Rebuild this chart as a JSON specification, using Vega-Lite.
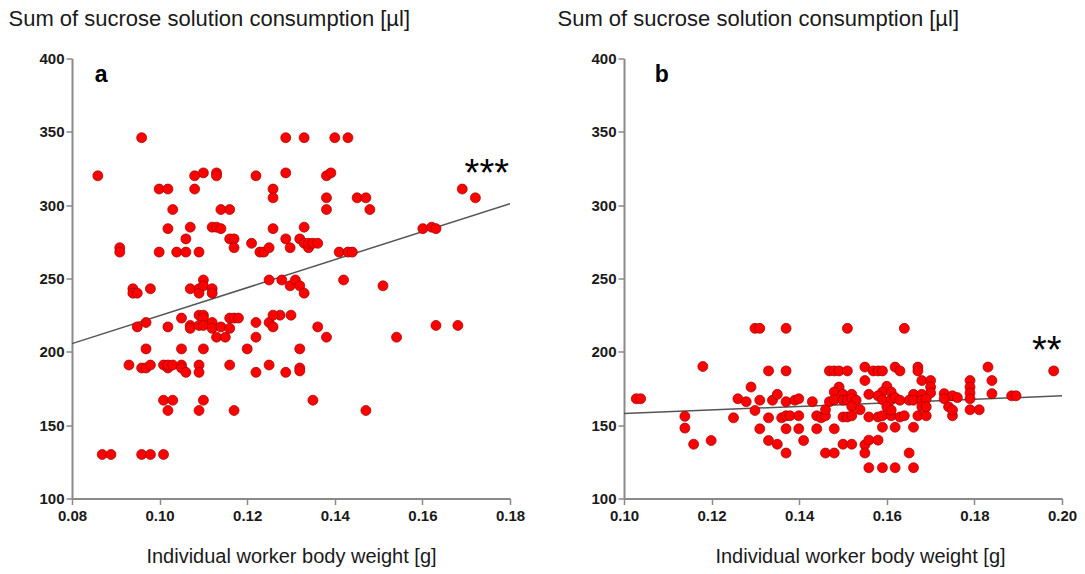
{
  "$schema": "https://vega.github.io/schema/vega-lite/v6.json",
  "background": "white",
  "padding": {"left": 8, "top": 7.5, "right": 5, "bottom": 5},
  "config": {
    "view": {"stroke": null},
    "font": "Liberation Sans",
    "axis": {
      "grid": false,
      "domainColor": "#8a8a8a",
      "domainWidth": 2,
      "tickColor": "#8a8a8a",
      "tickWidth": 1.5,
      "tickSize": 6,
      "labelFlush": false,
      "labelFont": "Liberation Sans",
      "labelFontWeight": "bold",
      "labelFontSize": 15,
      "labelColor": "#1a1a1a",
      "titleFont": "Liberation Sans",
      "titleFontWeight": "normal",
      "titleColor": "#1a1a1a"
    }
  },
  "datasets": {
    "ptsA": [
      {"w":0.0959,"c":346},{"w":0.0859,"c":320},{"w":0.0999,"c":311},{"w":0.1019,"c":311},{"w":0.1080,"c":320},{"w":0.1080,"c":311},{"w":0.1100,"c":322},{"w":0.1130,"c":322},{"w":0.1130,"c":320},{"w":0.1220,"c":320},{"w":0.1288,"c":346},{"w":0.1288,"c":322},{"w":0.1259,"c":311},{"w":0.1259,"c":305},{"w":0.1030,"c":297},{"w":0.1140,"c":297},{"w":0.1160,"c":297},{"w":0.1019,"c":284},{"w":0.1070,"c":285},{"w":0.1120,"c":285},{"w":0.1130,"c":285},{"w":0.1140,"c":284},{"w":0.1259,"c":284},{"w":0.1060,"c":277},{"w":0.1160,"c":277},{"w":0.1170,"c":277},{"w":0.1170,"c":271},{"w":0.1210,"c":274},{"w":0.1229,"c":268},{"w":0.1238,"c":268},{"w":0.1250,"c":271},{"w":0.1288,"c":277},{"w":0.1298,"c":271},{"w":0.0909,"c":271},{"w":0.0909,"c":268},{"w":0.0999,"c":268},{"w":0.1039,"c":268},{"w":0.1060,"c":268},{"w":0.1090,"c":268},{"w":0.0939,"c":243},{"w":0.0939,"c":240},{"w":0.0949,"c":240},{"w":0.0979,"c":243},{"w":0.1070,"c":243},{"w":0.1090,"c":243},{"w":0.1090,"c":240},{"w":0.1100,"c":249},{"w":0.1100,"c":245},{"w":0.1120,"c":243},{"w":0.1120,"c":240},{"w":0.1250,"c":249},{"w":0.1279,"c":249},{"w":0.1298,"c":245},
      {"w":0.1330,"c":346},{"w":0.1400,"c":346},{"w":0.1430,"c":346},{"w":0.1381,"c":320},{"w":0.1391,"c":322},{"w":0.1691,"c":311},{"w":0.1721,"c":305},{"w":0.1381,"c":305},{"w":0.1381,"c":297},{"w":0.1451,"c":305},{"w":0.1471,"c":305},{"w":0.1480,"c":297},{"w":0.1330,"c":285},{"w":0.1320,"c":277},{"w":0.1330,"c":274},{"w":0.1340,"c":271},{"w":0.1340,"c":274},{"w":0.1350,"c":274},{"w":0.1361,"c":274},{"w":0.1410,"c":268},{"w":0.1430,"c":268},{"w":0.1440,"c":268},{"w":0.1601,"c":284},{"w":0.1621,"c":285},{"w":0.1631,"c":284},{"w":0.1310,"c":249},{"w":0.1320,"c":245},{"w":0.1330,"c":240},{"w":0.1420,"c":249},{"w":0.1510,"c":245},{"w":0.1275,"c":225},{"w":0.1300,"c":225},
      {"w":0.0969,"c":220},{"w":0.0949,"c":217},{"w":0.1019,"c":217},{"w":0.1050,"c":223},{"w":0.1070,"c":218},{"w":0.1070,"c":216},{"w":0.1090,"c":225},{"w":0.1100,"c":225},{"w":0.1100,"c":223},{"w":0.1090,"c":218},{"w":0.1100,"c":218},{"w":0.1120,"c":220},{"w":0.1120,"c":216},{"w":0.1140,"c":217},{"w":0.1130,"c":210},{"w":0.1150,"c":210},{"w":0.1160,"c":223},{"w":0.1170,"c":223},{"w":0.1180,"c":223},{"w":0.1160,"c":216},{"w":0.1220,"c":220},{"w":0.1220,"c":210},{"w":0.1250,"c":220},{"w":0.1259,"c":217},{"w":0.1259,"c":225},{"w":0.0969,"c":202},{"w":0.1050,"c":202},{"w":0.1100,"c":202},{"w":0.1200,"c":202},{"w":0.0930,"c":191},{"w":0.0959,"c":189},{"w":0.0969,"c":189},{"w":0.0979,"c":191},{"w":0.1009,"c":191},{"w":0.1019,"c":189},{"w":0.1019,"c":191},{"w":0.1030,"c":191},{"w":0.1050,"c":191},{"w":0.1050,"c":189},{"w":0.1060,"c":186},{"w":0.1090,"c":191},{"w":0.1090,"c":186},{"w":0.1160,"c":191},{"w":0.1220,"c":186},{"w":0.1250,"c":191},{"w":0.1288,"c":186},{"w":0.1009,"c":167},{"w":0.1030,"c":167},{"w":0.1019,"c":160},{"w":0.1100,"c":167},{"w":0.1090,"c":160},{"w":0.1170,"c":160},{"w":0.0869,"c":130},{"w":0.0889,"c":130},{"w":0.0959,"c":130},{"w":0.0979,"c":130},{"w":0.1009,"c":130},
      {"w":0.1361,"c":217},{"w":0.1381,"c":210},{"w":0.1320,"c":202},{"w":0.1320,"c":189},{"w":0.1320,"c":187},{"w":0.1350,"c":167},{"w":0.1471,"c":160},{"w":0.1541,"c":210},{"w":0.1631,"c":218},{"w":0.1681,"c":218}
    ],
    "ptsB": [
      {"w":0.1028,"c":168},{"w":0.1038,"c":168},{"w":0.1180,"c":190},{"w":0.1139,"c":156},{"w":0.1139,"c":148},{"w":0.1159,"c":137},{"w":0.1199,"c":139.5},{"w":0.1250,"c":155},{"w":0.1260,"c":168},{"w":0.1279,"c":166},{"w":0.1290,"c":176},{"w":0.1299,"c":160},{"w":0.1299,"c":216},{"w":0.1310,"c":216},{"w":0.1310,"c":167},{"w":0.1310,"c":147.5},{"w":0.1330,"c":187},{"w":0.1330,"c":155},{"w":0.1330,"c":139.5},{"w":0.1339,"c":167},{"w":0.1350,"c":171},{"w":0.1350,"c":137},{"w":0.1360,"c":155},{"w":0.1370,"c":216},{"w":0.1370,"c":187},{"w":0.1370,"c":166},{"w":0.1370,"c":156.4},{"w":0.1379,"c":156.4},{"w":0.1370,"c":147.5},{"w":0.1370,"c":131},{"w":0.1390,"c":167},{"w":0.1399,"c":168},{"w":0.1399,"c":156.4},{"w":0.1399,"c":147.5},{"w":0.1410,"c":139.5},{"w":0.1430,"c":166},{"w":0.1440,"c":156.4},{"w":0.1440,"c":147.5},{"w":0.1450,"c":155},{"w":0.1460,"c":156.4},{"w":0.1460,"c":131},{"w":0.1469,"c":187},{"w":0.1469,"c":166},
      {"w":0.1510,"c":216},{"w":0.1480,"c":187},{"w":0.1491,"c":187},{"w":0.1510,"c":187},{"w":0.1491,"c":176},{"w":0.1480,"c":172.6},{"w":0.1500,"c":171},{"w":0.1520,"c":171},{"w":0.1480,"c":167.3},{"w":0.1500,"c":167},{"w":0.1510,"c":167},{"w":0.1520,"c":168},{"w":0.1530,"c":167},{"w":0.1520,"c":162.7},{"w":0.1460,"c":160.5},{"w":0.1500,"c":155.6},{"w":0.1510,"c":155.6},{"w":0.1520,"c":156.4},{"w":0.1480,"c":147.5},{"w":0.1500,"c":137},{"w":0.1520,"c":137},{"w":0.1480,"c":131},
      {"w":0.1640,"c":216},{"w":0.1550,"c":189.6},{"w":0.1569,"c":187},{"w":0.1580,"c":187},{"w":0.1590,"c":187},{"w":0.1619,"c":189.6},{"w":0.1630,"c":187},{"w":0.1671,"c":189.6},{"w":0.1671,"c":187},{"w":0.1831,"c":189.6},{"w":0.1550,"c":180.4},{"w":0.1600,"c":176.5},{"w":0.1680,"c":180.4},{"w":0.1700,"c":180.4},{"w":0.1700,"c":176},{"w":0.1700,"c":172},{"w":0.1790,"c":180.4},{"w":0.1790,"c":176},{"w":0.1790,"c":172},{"w":0.1840,"c":180.4},{"w":0.1840,"c":171.5},{"w":0.1590,"c":172.6},{"w":0.1610,"c":172.6},{"w":0.1559,"c":171},{"w":0.1580,"c":170},{"w":0.1590,"c":167.3},{"w":0.1610,"c":167.3},{"w":0.1619,"c":168.8},{"w":0.1630,"c":167},{"w":0.1661,"c":171},{"w":0.1680,"c":171},{"w":0.1651,"c":167},{"w":0.1661,"c":167},{"w":0.1680,"c":167},{"w":0.1690,"c":168},{"w":0.1731,"c":171.5},{"w":0.1750,"c":170},{"w":0.1761,"c":168.8},{"w":0.1731,"c":168},{"w":0.1790,"c":168},{"w":0.1885,"c":170},{"w":0.1895,"c":170},{"w":0.1539,"c":160.5},{"w":0.1559,"c":155.6},{"w":0.1580,"c":155.6},{"w":0.1590,"c":156.4},{"w":0.1610,"c":156.4},{"w":0.1630,"c":155.6},{"w":0.1640,"c":156.4},{"w":0.1600,"c":162.5},{"w":0.1610,"c":160.3},{"w":0.1671,"c":156.4},{"w":0.1680,"c":162.5},{"w":0.1690,"c":156.4},{"w":0.1690,"c":162.5},{"w":0.1741,"c":162.5},{"w":0.1750,"c":156.4},{"w":0.1750,"c":160.3},{"w":0.1790,"c":160.5},{"w":0.1811,"c":160.5},{"w":0.1590,"c":148.6},{"w":0.1619,"c":148.6},{"w":0.1661,"c":148.6},{"w":0.1550,"c":136.6},{"w":0.1550,"c":131},{"w":0.1559,"c":139.8},{"w":0.1580,"c":139.8},{"w":0.1651,"c":131},{"w":0.1559,"c":121},{"w":0.1590,"c":121},{"w":0.1619,"c":121},{"w":0.1661,"c":121},{"w":0.1981,"c":187}
    ],
    "fitA": [{"w":0.08,"c":205.6},{"w":0.18,"c":301}],
    "fitB": [{"w":0.10,"c":158},{"w":0.20,"c":170}],
    "labA": [{"w":0.0852,"c":384,"t":"a"}],
    "labB": [{"w":0.1070,"c":384,"t":"b"}],
    "starA": [{"w":0.1747,"c":313,"t":"***"}],
    "starB": [{"w":0.1965,"c":192.5,"t":"**"}]
  },
  "hconcat": [
    {
      "width": 438,
      "height": 440,
      "encoding": {
        "x": {"field": "w", "type": "quantitative",
              "scale": {"domain": [0.08, 0.18], "nice": false, "zero": false},
              "axis": {"values": [0.08, 0.10, 0.12, 0.14, 0.16, 0.18], "format": ".2f", "labelPadding": 4,
                       "title": "Individual worker body weight [g]", "titleFontSize": 20, "titleY": 64, "titleBaseline": "alphabetic"}},
        "y": {"field": "c", "type": "quantitative",
              "scale": {"domain": [100, 400], "nice": false, "zero": false},
              "axis": {"values": [100, 150, 200, 250, 300, 350, 400], "labelPadding": 2,
                       "title": "Sum of sucrose solution consumption [µl]", "titleFontSize": 22, "titleAngle": 0, "titleAlign": "left",
                       "titleX": -64, "titleY": -33, "titleBaseline": "alphabetic"}}
      },
      "layer": [
        {"data": {"name": "fitA"}, "mark": {"type": "line", "color": "#555555", "strokeWidth": 1.5}},
        {"data": {"name": "ptsA"}, "mark": {"type": "circle", "size": 100, "color": "#ff0000", "opacity": 1, "stroke": "#9a0000", "strokeWidth": 0.7}},
        {"data": {"name": "labA"}, "mark": {"type": "text", "fontSize": 23, "fontWeight": "bold", "align": "left", "baseline": "alphabetic", "color": "#000000"},
         "encoding": {"text": {"field": "t"}}},
        {"data": {"name": "starA"}, "mark": {"type": "text", "fontSize": 38, "align": "center", "baseline": "alphabetic", "color": "#000000"},
         "encoding": {"text": {"field": "t"}}}
      ]
    },
    {
      "width": 438,
      "height": 440,
      "encoding": {
        "x": {"field": "w", "type": "quantitative",
              "scale": {"domain": [0.10, 0.20], "nice": false, "zero": false},
              "axis": {"values": [0.10, 0.12, 0.14, 0.16, 0.18, 0.20], "format": ".2f", "labelPadding": 4,
                       "title": "Individual worker body weight [g]", "titleFontSize": 20, "titleX": 236, "titleAlign": "center", "titleY": 64, "titleBaseline": "alphabetic"}},
        "y": {"field": "c", "type": "quantitative",
              "scale": {"domain": [100, 400], "nice": false, "zero": false},
              "axis": {"values": [100, 150, 200, 250, 300, 350, 400], "labelPadding": 2,
                       "title": "Sum of sucrose solution consumption [µl]", "titleFontSize": 22, "titleAngle": 0, "titleAlign": "left",
                       "titleX": -67, "titleY": -33, "titleBaseline": "alphabetic"}}
      },
      "layer": [
        {"data": {"name": "fitB"}, "mark": {"type": "line", "color": "#555555", "strokeWidth": 1.5}},
        {"data": {"name": "ptsB"}, "mark": {"type": "circle", "size": 100, "color": "#ff0000", "opacity": 1, "stroke": "#9a0000", "strokeWidth": 0.7}},
        {"data": {"name": "labB"}, "mark": {"type": "text", "fontSize": 23, "fontWeight": "bold", "align": "left", "baseline": "alphabetic", "color": "#000000"},
         "encoding": {"text": {"field": "t"}}},
        {"data": {"name": "starB"}, "mark": {"type": "text", "fontSize": 38, "align": "center", "baseline": "alphabetic", "color": "#000000"},
         "encoding": {"text": {"field": "t"}}}
      ]
    }
  ],
  "spacing": 114,
  "bounds": "flush"
}
